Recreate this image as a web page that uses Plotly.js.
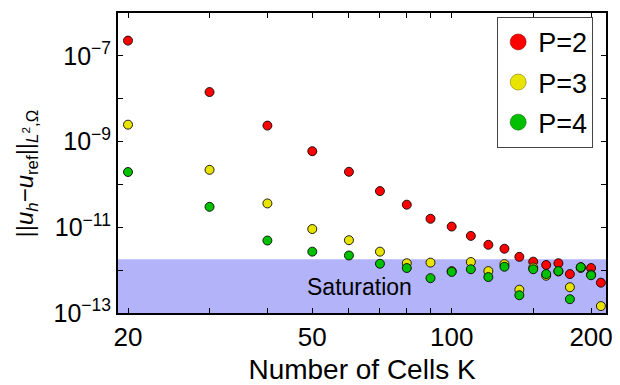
<!DOCTYPE html>
<html>
<head>
<meta charset="utf-8">
<script src="https://cdn.plot.ly/plotly-3.0.1.min.js"></script>
<style>html,body{margin:0;padding:0;background:#fff;}#chart{width:620px;height:385px;}</style>
</head>
<body>
<div id="chart"></div>
<script>
// Number of cells K
var cells = [20,30,40,50,60,70,80,90,100,110,120,130,140,150,160,170,180,190,200,210];
// L2 error values
var errP2 = [2.27e-7,1.43e-8,2.36e-9,5.96e-10,1.97e-10,7.0e-11,3.37e-11,1.58e-11,1.04e-11,6.3e-12,3.9e-12,3.16e-12,2.04e-12,1.58e-12,1.32e-12,1.45e-12,8.1e-13,1.17e-12,1.12e-12,5.1e-13];
var errP3 = [2.48e-9,2.19e-10,3.6e-11,9.1e-12,5.0e-12,2.7e-12,1.45e-12,1.5e-12,9.5e-13,1.55e-12,9.5e-13,1.38e-12,3.5e-13,1.15e-12,7.4e-13,9.3e-13,4.0e-13,1.12e-12,7.9e-13,1.45e-13];
var errP4 = [1.95e-10,3.0e-11,4.9e-12,2.7e-12,2.2e-12,1.41e-12,1.12e-12,6.5e-13,9.1e-13,1.05e-12,6.9e-13,1.2e-12,2.6e-13,1.05e-12,8.1e-13,9.5e-13,2.1e-13,1.17e-12,7.6e-13,null];
var seriesNames = ['P=2','P=3','P=4'];
// saturation level
var saturationLevel = 1.8e-12;
var saturationLabel = 'Saturation';
// axis ticks and titles
var xTickVals = [20,30,40,50,60,70,80,90,100,150,200];
var xTickText = ['20','','','50','','','','','100','','200'];
var yTickVals = [1e-13,1e-12,1e-11,1e-10,1e-9,1e-8,1e-7];
var yTickText = ['10<sup>\u221213</sup>','','10<sup>\u221211</sup>','','10<sup>\u22129</sup>','','10<sup>\u22127</sup>'];
var xTitle = 'Number of Cells K';
var yTitle = '||<i>u</i><sub><i>h</i></sub>\u2212<i>u</i><sub>ref</sub>||<sub><i>L</i><sup>2</sup>,\u03A9</sub>';

var xRange = [Math.log10(19.03), Math.log10(215.4)];
var yRange = [-13, -6];
var colors = ['rgb(255,0,0)','rgb(232,228,0)','rgb(0,192,0)'];
var edgeColors = ['rgb(120,0,0)','rgb(110,105,0)','rgb(0,80,0)'];
var FONT = 'Liberation Sans, Arial, sans-serif';

var band = {
  x: [Math.pow(10,xRange[0]), Math.pow(10,xRange[1]), Math.pow(10,xRange[1]), Math.pow(10,xRange[0])],
  y: [1e-14, 1e-14, saturationLevel, saturationLevel],
  type: 'scatter', mode: 'lines', fill: 'toself',
  fillcolor: 'rgb(179,179,250)', line: {width: 0},
  showlegend: false, hoverinfo: 'skip'
};

var sets = [errP2, errP3, errP4];
var traces = [band];
for (var i = 0; i < 3; i++) {
  traces.push({
    x: cells, y: sets[i], name: seriesNames[i],
    legendgroup: 'g' + i, showlegend: false,
    type: 'scatter', mode: 'markers',
    marker: {size: 9, color: colors[i], line: {color: 'rgba(0,0,0,0.85)', width: 1}}
  });
}
// legend entries (larger symbols, same series)
for (var j = 0; j < 3; j++) {
  traces.push({
    x: [null], y: [null], name: seriesNames[j],
    legendgroup: 'g' + j, showlegend: true,
    type: 'scatter', mode: 'markers',
    marker: {size: 16, color: colors[j], line: {color: edgeColors[j], width: 0.5}}
  });
}

var layout = {
  width: 620, height: 385,
  margin: {l: 118, r: 14, t: 13, b: 72},
  paper_bgcolor: '#fff', plot_bgcolor: '#fff',
  font: {family: FONT, color: '#000', size: 26},
  showlegend: true,
  legend: {
    x: 0.777, y: 0.987, xanchor: 'left', yanchor: 'top',
    bgcolor: '#fff', bordercolor: '#444', borderwidth: 1,
    traceorder: 'grouped', tracegroupgap: 2,
    font: {family: FONT, size: 27, color: '#000'}
  },
  xaxis: {
    type: 'log', range: xRange,
    tickmode: 'array', tickvals: xTickVals, ticktext: xTickText,
    ticks: 'inside', ticklen: 5, tickwidth: 1, tickcolor: '#000',
    showline: true, linecolor: '#000', linewidth: 2, mirror: 'ticks',
    showgrid: false, zeroline: false,
    tickfont: {family: FONT, size: 26, color: '#000'},
    title: {text: xTitle, font: {family: FONT, size: 28, color: '#000'}, standoff: 11}
  },
  yaxis: {
    type: 'log', range: yRange,
    tickmode: 'array', tickvals: yTickVals, ticktext: yTickText,
    ticks: 'inside', ticklen: 5, tickwidth: 1, tickcolor: '#000',
    showline: true, linecolor: '#000', linewidth: 2, mirror: 'ticks',
    showgrid: false, zeroline: false,
    tickfont: {family: FONT, size: 25, color: '#000'}
  },
  annotations: [{
    x: Math.log10(63.2), y: Math.log10(4.05e-13), xref: 'x', yref: 'y',
    text: saturationLabel, showarrow: false,
    xanchor: 'center', yanchor: 'middle',
    font: {family: FONT, size: 23, color: '#000'}
  }, {
    x: -0.1885, y: 0.465, xref: 'paper', yref: 'paper',
    text: yTitle, showarrow: false, textangle: -90,
    xanchor: 'center', yanchor: 'middle',
    font: {family: FONT, size: 24, color: '#000'}
  }]
};

Plotly.newPlot('chart', traces, layout, {displayModeBar: false, staticPlot: true});
</script>
</body>
</html>
